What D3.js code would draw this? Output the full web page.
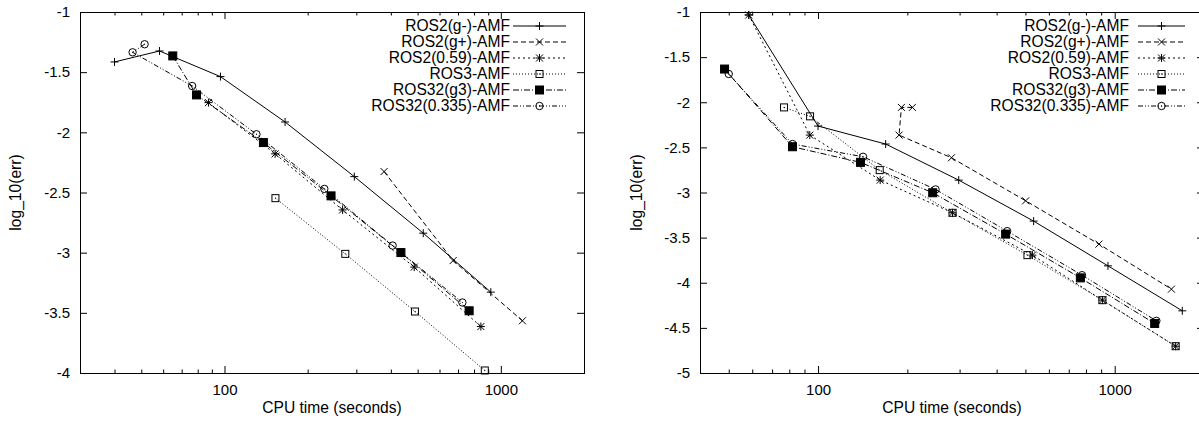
<!DOCTYPE html>
<html>
<head>
<meta charset="utf-8">
<script src="https://cdn.jsdelivr.net/npm/d3@7"></script>
<style>
	body { margin: 0; background: #fff; }
	svg { display: block; }
	text { font-family: "Liberation Sans", Arial, sans-serif; font-size: 15.6px; fill: #000; }
</style>
</head>
<body>
<svg id="chart" width="1199" height="423"></svg>
<script>
// series names, same order in both panels
const seriesNames = [
	"ROS2(g-)-AMF",
	"ROS2(g+)-AMF",
	"ROS2(0.59)-AMF",
	"ROS3-AMF",
	"ROS32(g3)-AMF",
	"ROS32(0.335)-AMF",
]

// left panel: [cpu seconds, log10(err)]
const leftGm = [[40.0, -1.415], [58.2, -1.324], [96.7, -1.537], [165.7, -1.914], [295, -2.368], [524, -2.838], [920, -3.328]]
const leftGp = [[378, -2.326], [672, -3.066], [1197, -3.566]]
const left059 = [[87.5, -1.753], [152.5, -2.179], [267.6, -2.645], [486, -3.120], [847, -3.614]]
const leftRos3 = [[152.9, -2.547], [273.7, -3.010], [489, -3.489], [875, -3.979]]
const leftG3 = [[65.0, -1.365], [79.2, -1.689], [138.3, -2.085], [243, -2.528], [435, -2.999], [768, -3.483]]
const left0335 = [[51.4, -1.268], [46.5, -1.335], [76.4, -1.615], [130.5, -2.016], [229.8, -2.470], [406, -2.941], [726, -3.414]]

// right panel
const rightGm = [[58.4, -1.033], [100, -2.264], [169, -2.463], [298, -2.863], [533, -3.317], [949, -3.813], [1690, -4.311]]
const rightGp = [[208, -2.057], [191, -2.057], [187.5, -2.364], [281.7, -2.615], [501, -3.092], [885, -3.572], [1553, -4.071]]
const right059 = [[58.4, -1.033], [93.8, -2.364], [162, -2.863], [284, -3.225], [528, -3.694], [909, -4.193], [1605, -4.703]]
const rightRos3 = [[76.8, -2.057], [94, -2.156], [161.4, -2.752], [284, -3.225], [508, -3.694], [909, -4.193], [1605, -4.703]]
const rightG3 = [[48.4, -1.632], [82, -2.493], [139, -2.666], [243.5, -3.003], [429, -3.461], [766, -3.946], [1364, -4.451]]
const right0335 = [[50, -1.687], [82, -2.463], [141.8, -2.604], [249, -2.966], [434, -3.428], [776, -3.916], [1382, -4.422]]

const xTicks = [100, 1000]
const yTicksLeft = [-1, -1.5, -2, -2.5, -3, -3.5, -4]
const yTicksRight = [-1, -1.5, -2, -2.5, -3, -3.5, -4, -4.5, -5]

const config = {
	tickMajor: 7,
	tickMinor: 3.5,
	tickFontSize: 15,
	legendRow: 16,
	// dash pattern and point type per series
	styles: [
		{ dash: null, point: "plus" },
		{ dash: "5,3", point: "cross" },
		{ dash: "2,3", point: "star" },
		{ dash: "1,2", point: "box" },
		{ dash: "6,2,1,2", point: "fbox" },
		{ dash: "5,2,1,2,1,2", point: "circle" },
	],
}

const panels = [
	{
		left: 80, right: 584, top: 12, bottom: 373,
		xDomain: [30, 2000], yDomain: [-4, -1], yTicks: yTicksLeft,
		series: [leftGm, leftGp, left059, leftRos3, leftG3, left0335],
		yLabelX: 16,
		legend: { textX: 510, lineFrom: 513, lineTo: 566, y: 26 },
	},
	{
		left: 700, right: 1204, top: 12, bottom: 373,
		xDomain: [40, 2000], yDomain: [-5, -1], yTicks: yTicksRight,
		series: [rightGm, rightGp, right059, rightRos3, rightG3, right0335],
		yLabelX: 637,
		legend: { textX: 1129, lineFrom: 1138, lineTo: 1185, y: 26 },
	},
]

const svg = d3.select("#chart")

function drawPoint(g, type, cx, cy) {
	const s = 4
	const c = 3.5
	if (type === "plus" || type === "star") {
		g.append("path").attr("d", `M${cx - s},${cy}H${cx + s}M${cx},${cy - s}V${cy + s}`)
	}
	if (type === "cross" || type === "star") {
		g.append("path").attr("d", `M${cx - c},${cy - c}L${cx + c},${cy + c}M${cx - c},${cy + c}L${cx + c},${cy - c}`)
	}
	if (type === "box") {
		g.append("rect").attr("x", cx - 3.5).attr("y", cy - 3.5).attr("width", 7).attr("height", 7).attr("fill", "none")
		g.append("rect").attr("x", cx - 0.5).attr("y", cy - 0.5).attr("width", 1).attr("height", 1).attr("fill", "#000").attr("stroke", "none")
	}
	if (type === "fbox") {
		g.append("rect").attr("x", cx - 4).attr("y", cy - 4).attr("width", 8).attr("height", 8).attr("fill", "#000")
	}
	if (type === "circle") {
		g.append("circle").attr("cx", cx).attr("cy", cy).attr("r", 3.7).attr("fill", "none")
		g.append("rect").attr("x", cx - 0.5).attr("y", cy - 0.5).attr("width", 1).attr("height", 1).attr("fill", "#000").attr("stroke", "none")
	}
}

function minorTicks(domain) {
	const out = []
	for (let dec = 10; dec <= 1000; dec *= 10)
		for (let m = 2; m <= 9; m++) {
			const v = m * dec
			if (v > domain[0] && v <= domain[1]) out.push(v)
		}
	return out
}

panels.forEach(p => {
	const x = d3.scaleLog().domain(p.xDomain).range([p.left, p.right])
	const y = d3.scaleLinear().domain(p.yDomain).range([p.bottom, p.top])
	const g = svg.append("g")

	// axes, all ticks pointing inward like gnuplot
	g.append("g")
		.attr("transform", `translate(0,${p.bottom})`)
		.call(d3.axisBottom(x).tickValues(xTicks).tickSize(-config.tickMajor).tickPadding(11).tickFormat(d3.format("d")))
	g.append("g")
		.attr("transform", `translate(0,${p.bottom})`)
		.call(d3.axisBottom(x).tickValues(minorTicks(p.xDomain)).tickSize(-config.tickMinor).tickFormat(""))
	g.append("g")
		.attr("transform", `translate(0,${p.top})`)
		.call(d3.axisTop(x).tickValues(xTicks).tickSize(-config.tickMajor).tickFormat(""))
	g.append("g")
		.attr("transform", `translate(0,${p.top})`)
		.call(d3.axisTop(x).tickValues(minorTicks(p.xDomain)).tickSize(-config.tickMinor).tickFormat(""))
	g.append("g")
		.attr("transform", `translate(${p.left},0)`)
		.call(d3.axisLeft(y).tickValues(p.yTicks).tickSize(-config.tickMajor).tickPadding(10).tickFormat(d => String(d)))
	g.append("g")
		.attr("transform", `translate(${p.right},0)`)
		.call(d3.axisRight(y).tickValues(p.yTicks).tickSize(-config.tickMajor).tickFormat(""))

	g.selectAll(".domain").remove()
	g.selectAll(".tick line").attr("stroke", "#000")
	g.selectAll(".tick text").style("font-size", `${config.tickFontSize}px`).attr("font-family", null)

	g.append("rect")
		.attr("x", p.left + 0.5).attr("y", p.top + 0.5)
		.attr("width", p.right - p.left).attr("height", p.bottom - p.top)
		.attr("fill", "none").attr("stroke", "#000")

	// axis titles
	g.append("text")
		.attr("transform", `translate(${p.yLabelX},${(p.top + p.bottom) / 2}) rotate(-90)`)
		.attr("text-anchor", "middle")
		.attr("dy", "0.35em")
		.text("log_10(err)")
	g.append("text")
		.attr("x", (p.left + p.right) / 2)
		.attr("y", 413)
		.attr("text-anchor", "middle")
		.text("CPU time (seconds)")

	const line = d3.line().x(d => x(d[0])).y(d => y(d[1]))

	p.series.forEach((data, i) => {
		const st = config.styles[i]
		const sg = g.append("g").attr("stroke", "#000").attr("stroke-width", 1)
		sg.append("path")
			.datum(data)
			.attr("d", line)
			.attr("fill", "none")
			.attr("stroke-dasharray", st.dash)
		data.forEach(d => drawPoint(sg, st.point, x(d[0]), y(d[1])))

		// legend entry
		const ly = p.legend.y + i * config.legendRow
		g.append("text")
			.attr("x", p.legend.textX)
			.attr("y", ly)
			.attr("dy", "0.35em")
			.attr("text-anchor", "end")
			.text(seriesNames[i])
		const lg = g.append("g").attr("stroke", "#000").attr("stroke-width", 1)
		lg.append("line")
			.attr("x1", p.legend.lineFrom).attr("x2", p.legend.lineTo)
			.attr("y1", ly).attr("y2", ly)
			.attr("stroke-dasharray", st.dash)
		drawPoint(lg, st.point, (p.legend.lineFrom + p.legend.lineTo) / 2, ly)
	})
})
</script>
</body>
</html>
